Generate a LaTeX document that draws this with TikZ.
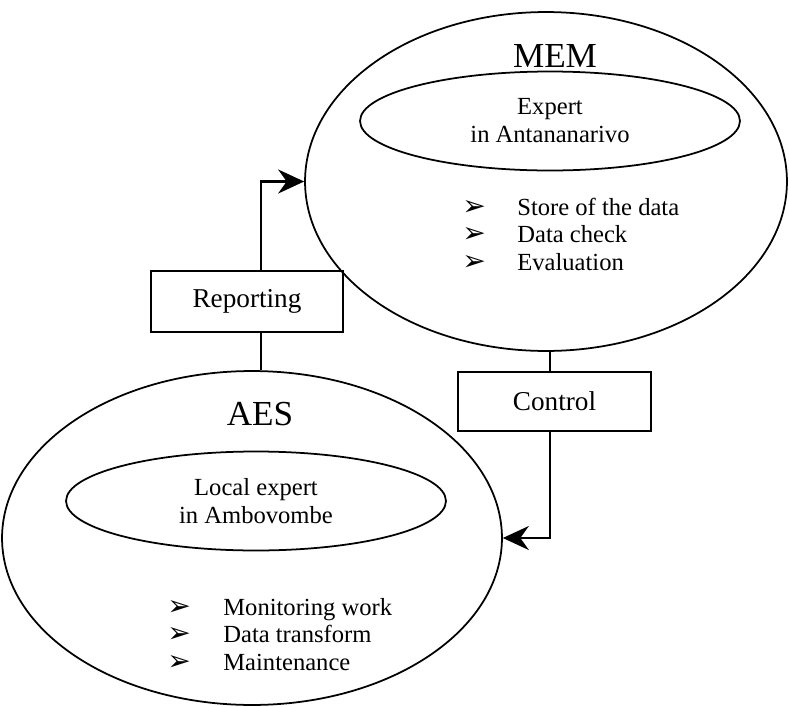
\documentclass[tikz,border=0pt]{standalone}
\usepackage{fontspec}
\setmainfont{Liberation Serif}
\newfontfamily\symfont{DejaVu Sans}
\usetikzlibrary{arrows.meta,shapes.geometric}
\newcommand{\bul}{{\symfont\fontsize{16}{16}\selectfont\char"27A2}}
\tikzset{
    org/.style={ellipse,draw,line width=1pt,inner sep=0pt},
    expert/.style={org,minimum width=7.6cm,minimum height=1.98cm,align=center,
        font=\fontsize{14}{16}\selectfont},
    orgname/.style={anchor=base,inner sep=0pt,font=\fontsize{20}{22}\selectfont},
    task/.style={anchor=base west,inner sep=0pt,font=\fontsize{14}{16}\selectfont},
    flowbox/.style={draw,line width=1.1pt,font=\fontsize{15.5}{18}\selectfont},
    wire/.style={line width=1.4pt},
    link/.style={wire,-{Stealth[length=5.2mm,width=4.8mm,inset=1.7mm]}},
}

\begin{document}
\begin{tikzpicture}[x=0.02cm,y=-0.02cm]
    \useasboundingbox (0,0) rectangle (789,707);
    % ministry side
    \node[org,minimum width=9.64cm,minimum height=6.78cm] (mem) at (546,181.5) {};
    \node[orgname] (memname) at (555,67) {MEM};
    \node[expert] (memexp) at (550,121) {Expert\\in Antananarivo};
    \foreach \txt [count=\i] in {Store of the data,Data check,Evaluation}
        \node[task] (memtask\i) at (462,{215+27.5*(\i-1)}) {\makebox[1.1cm][l]{\bul}\txt};
    % local side
    \node[org,minimum width=10cm,minimum height=6.68cm] (aes) at (252,538) {};
    \node[orgname] (aesname) at (260,425) {AES};
    \node[expert] (aesexp) at (256,501) {Local expert\\in Ambovombe};
    \foreach \txt [count=\i] in {Monitoring work,Data transform,Maintenance}
        \node[task] (aestask\i) at (167,{615+27.5*(\i-1)}) {\makebox[1.12cm][l]{\bul}\txt};
    % exchanges
    \node[flowbox,minimum width=3.84cm,minimum height=1.22cm] (rep) at (247,301.5) {Reporting};
    \node[flowbox,minimum width=3.86cm,minimum height=1.18cm] (ctl) at (554.5,401.5) {Control};
    \draw[link] ([xshift=0.28cm]rep.north) |- (mem.west);
    \draw[wire] ([xshift=0.28cm]rep.south) -- ([xshift=0.28cm]rep.south |- aes.north);
    \draw[wire] ([xshift=-0.09cm]ctl.north) -- ([xshift=-0.09cm]ctl.north |- mem.south);
    \draw[link] ([xshift=-0.09cm]ctl.south) |- (aes.east);
\end{tikzpicture}
\end{document}
